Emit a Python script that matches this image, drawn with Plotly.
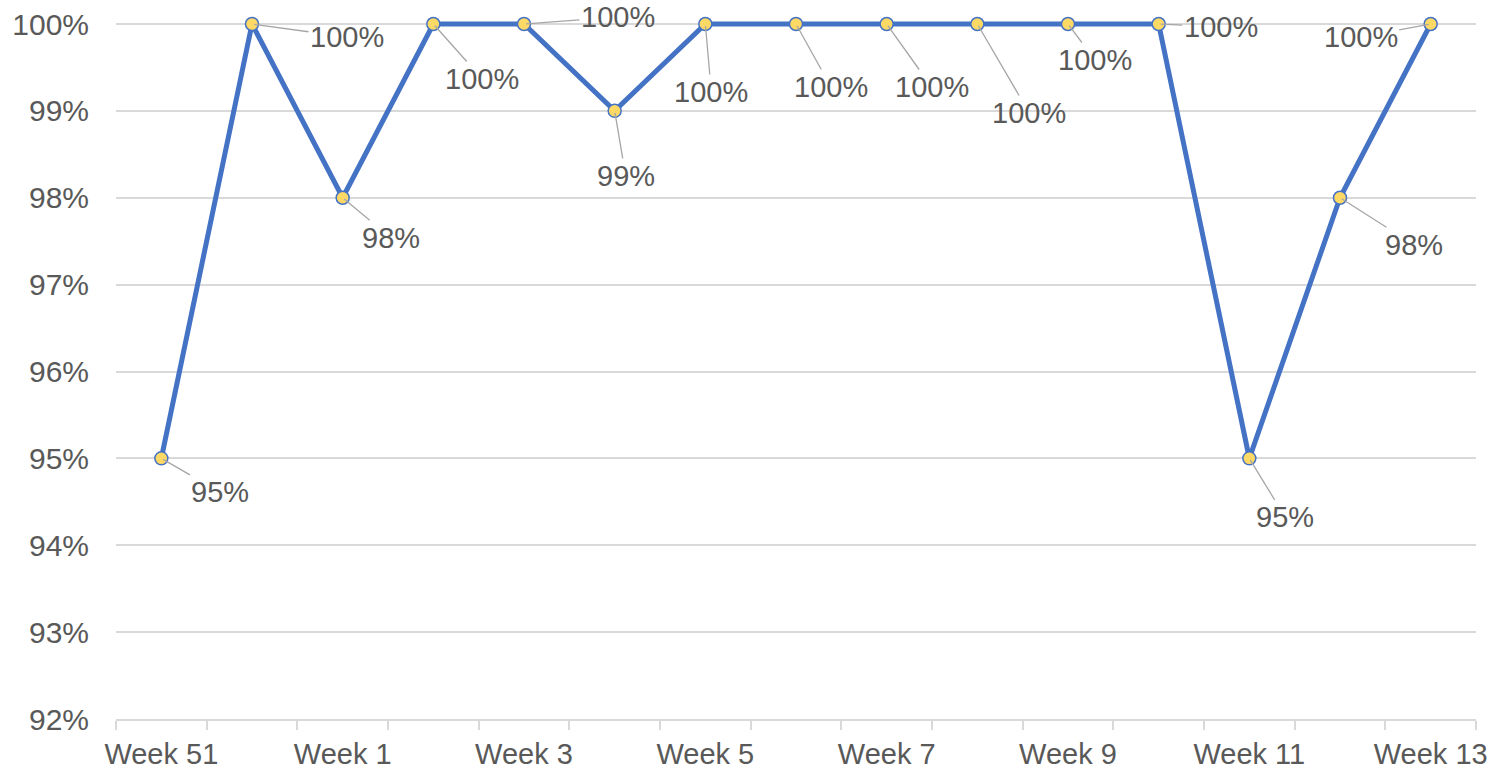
import plotly.graph_objects as go

weeks = ["Week 51", "Week 52", "Week 1", "Week 2", "Week 3", "Week 4", "Week 5",
         "Week 6", "Week 7", "Week 8", "Week 9", "Week 10", "Week 11", "Week 12", "Week 13"]
values = [95, 100, 98, 100, 100, 99, 100, 100, 100, 100, 100, 100, 95, 98, 100]
labels = [f"{v}%" for v in values]

# label offsets (pixels) relative to each point, mimicking the placed data labels
label_dx = [59, 95, 48, 49, 94, 11, 6, 35, 45, 52, 27, 62, 36, 74, -70]
label_dy = [34, 13, 40, 55, -7, 65, 68, 63, 63, 89, 36, 3, 59, 47, 13]

xpos = list(range(len(weeks)))

FONT = "Liberation Sans, Arial, sans-serif"
TXT = "#595959"

fig = go.Figure()
fig.add_trace(go.Scatter(
    x=xpos, y=values, mode="lines+markers",
    line=dict(color="#4472C4", width=5),
    marker=dict(size=13, color="#FFD966", line=dict(color="#4472C4", width=1.5)),
    cliponaxis=False, hoverinfo="skip", showlegend=False,
))

for i, (x, y, t) in enumerate(zip(xpos, values, labels)):
    fig.add_annotation(
        x=x, y=y, text=t, showarrow=True, arrowhead=0, arrowwidth=1.3,
        arrowcolor="#A6A6A6", ax=label_dx[i], ay=label_dy[i], standoff=2,
        font=dict(family=FONT, size=29, color=TXT), xanchor="center", yanchor="middle",
    )

fig.update_layout(
    width=1499, height=779,
    margin=dict(l=116, r=23, t=20, b=60),
    paper_bgcolor="white", plot_bgcolor="white",
    font=dict(family=FONT, size=29, color=TXT),
    xaxis=dict(
        automargin=False,
        range=[-0.5, len(weeks) - 0.5],
        tickmode="array", tickvals=xpos[::2], ticktext=weeks[::2],
        ticks="", showgrid=False, zeroline=False,
        showline=True, linecolor="#D9D9D9", linewidth=1.5,
        ticklabelstandoff=8,
        tickfont=dict(family=FONT, size=29, color=TXT),
        minor=dict(tickmode="linear", tick0=-0.5, dtick=1, ticks="outside",
                   ticklen=9, tickcolor="#D9D9D9", tickwidth=1.5, showgrid=False),
    ),
    yaxis=dict(
        automargin=False,
        range=[92, 100.046], tick0=92, dtick=1, ticksuffix="%",
        showgrid=True, gridcolor="#D9D9D9", gridwidth=1.5,
        zeroline=False, showline=False, ticks="",
        ticklabelstandoff=26,
        tickfont=dict(family=FONT, size=30, color=TXT),
    ),
)

fig.write_html("out.html", config={"displayModeBar": False},
               post_script="document.body.style.margin='0';")
